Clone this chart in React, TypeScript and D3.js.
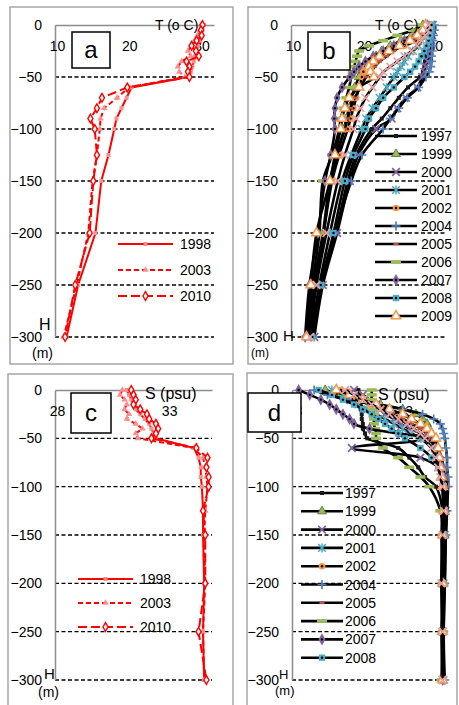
import { useRef, useEffect } from 'react';
import * as d3 from 'd3';

const W = 459;
const H = 705;
const FONT = 'Liberation Sans, Arial, sans-serif';

// depth levels (m) shared by every profile
const depths = [0, -5, -10, -15, -20, -25, -30, -35, -40, -45, -50, -60, -70, -80, -90, -100, -125, -150, -200, -250, -300];
const depthTicks = [0, -50, -100, -150, -200, -250, -300];
const tempTicks = [10, 20, 30];
const salTicks = [28, 33];

// panels a and c: three years
const yearsAC = ['1998', '2003', '2010'];
const tempA1998 = [30.6, 30.4, 30.3, 30.1, 29.8, 29.6, 29.4, 29.2, 29, 28.8, 28.4, 20.6, 19.9, 19.2, 18.5, 18.2, 17.4, 16.4, 15.6, 13.2, 11.6];
const tempA2003 = [30.2, 30, 29.7, 29.3, 28.8, 28.4, 28.8, 27.5, 27, 27.2, 28, 20.2, 18.6, 16.8, 16.3, 16.2, 15.8, 15.2, 14.6, 13, 11.2];
const tempA2010 = [30.4, 30.2, 30.3, 29.6, 28.9, 29.5, 29.9, 28.2, 28.6, 28.4, 28.6, 20, 16.5, 15.8, 14.9, 15.5, 15.8, 15.3, 14.8, 12.8, 11.4];

const salC1998 = [31.2, 31.3, 31.4, 31.5, 31.6, 31.8, 32, 32.2, 32.3, 32.4, 32.5, 34.2, 34.4, 34.5, 34.5, 34.55, 34.6, 34.6, 34.65, 34.6, 34.65];
const salC2003 = [31, 30.9, 31.1, 31.2, 31.1, 31.3, 31.2, 31.6, 31.9, 31.6, 31.7, 34.2, 34.6, 34.7, 34.75, 34.8, 34.7, 34.65, 34.7, 34.6, 34.65];
const salC2010 = [31.4, 31.5, 31.6, 31.5, 31.8, 32.1, 32.2, 32.5, 32.6, 32.5, 32.3, 34.3, 34.8, 34.75, 34.85, 34.85, 34.6, 34.7, 34.7, 34.4, 34.75];

// panels b and d: all years (legend shows only the first ones, as in the source)
const yearsBD = ['1997', '1999', '2000', '2001', '2002', '2004', '2005', '2006', '2007', '2008', '2009', '2010'];

const tempB1997 = [29.6, 29.5, 29.4, 29.3, 29.2, 29.1, 29, 28.9, 28.8, 28.6, 28.2, 26.5, 25.2, 24, 22.8, 21.4, 19.2, 18, 16.3, 14.3, 13.2];
const tempB1999 = [28.6, 28, 27, 25.5, 24, 22.8, 22, 21.2, 20.5, 20, 19.6, 19, 18.6, 18.2, 17.8, 17.5, 16.4, 15.5, 14.5, 13.2, 12.5];
const tempB2000 = [30, 30, 29.9, 29.8, 29.7, 29.6, 29.5, 29.3, 29, 28.8, 28.5, 27.8, 26.2, 25, 24.2, 22, 19.5, 18.3, 16.5, 14.5, 13.3];
const tempB2001 = [29.3, 29.1, 28.8, 28.4, 28, 27.2, 26.5, 26, 25.5, 25, 24.5, 23.5, 22.5, 21.5, 20.6, 20, 18.5, 17.2, 15.5, 14, 12.8];
const tempB2002 = [29.5, 29.2, 28.6, 27.6, 26, 24, 22, 21, 20.5, 20.2, 20, 19.6, 19.2, 18.8, 18.4, 18, 16.8, 15.8, 14.6, 13.5, 12.6];
const tempB2004 = [30.2, 30.2, 30.1, 30, 29.9, 29.9, 29.8, 29.8, 29.7, 29.5, 29, 28, 26.4, 25.2, 24, 23, 20, 18.5, 16.2, 14.2, 13.2];
const tempB2005 = [28.8, 28.4, 27.5, 26.5, 25.5, 24.5, 23.5, 22.5, 21.8, 21.2, 20.6, 19.8, 19, 18.4, 18, 17.6, 16.5, 15.6, 14.6, 13.4, 12.4];
const tempB2006 = [28.5, 27.2, 25, 23, 21, 19.6, 19.3, 19.1, 18.9, 18.7, 18.5, 18.2, 17.8, 17.4, 17, 16.8, 15.8, 14.5, 14, 13, 12.2];
const tempB2007 = [29.2, 28.6, 27.5, 26, 24.5, 23, 21.6, 20.5, 19.6, 18.9, 18.3, 17.2, 16.5, 16.2, 16.1, 16.2, 15.6, 14.8, 13.8, 12.6, 12];
const tempB2008 = [29.8, 29.7, 29.6, 29.4, 29.1, 28.8, 28.4, 28, 27.5, 26.8, 26, 24.5, 23, 22, 21, 20.5, 18.8, 17.6, 16, 14.2, 13];
const tempB2009 = [29, 28.6, 27.8, 26.8, 25.3, 23.8, 22.5, 21.6, 21, 21.2, 21.7, 19.6, 18.2, 17.6, 17.2, 17, 16.2, 15.5, 13.6, 12.8, 12.2];
const tempB2010 = [29.4, 29.2, 28.9, 28.4, 27.8, 27, 26, 25, 24, 23, 22.5, 21.5, 20.5, 19.8, 19.2, 18.8, 17.6, 16.6, 15, 13.6, 12.7];

const salD1997 = [31, 31.05, 31.1, 31.1, 31.1, 31.15, 31.15, 31.2, 31.2, 31.3, 31.4, 32.8, 33.3, 33.7, 34, 34.5, 34.8, 34.8, 34.75, 34.8, 34.8];
const salD1999 = [29.5, 30.2, 31, 32, 33, 33.6, 33.9, 34.1, 34.2, 34.3, 34.4, 34.5, 34.6, 34.7, 34.75, 34.8, 34.9, 34.9, 34.85, 34.8, 34.8];
const salD2000 = [30.8, 31.2, 31.5, 31.8, 32, 32.2, 32.6, 32.9, 33.3, 33.8, 34, 30.7, 33.8, 34.6, 34.8, 34.85, 34.9, 34.85, 34.8, 34.8, 34.8];
const salD2001 = [29.8, 30.3, 30.6, 31, 31.4, 31.8, 32.2, 32.6, 33, 33.4, 33.8, 34.3, 34.6, 34.7, 34.8, 34.9, 34.95, 34.9, 34.85, 34.8, 34.85];
const salD2002 = [30.2, 30.5, 30.9, 31.5, 32.2, 32.9, 33.4, 33.7, 33.9, 34.1, 34.3, 34.5, 34.6, 34.7, 34.75, 34.8, 34.8, 34.75, 34.8, 34.75, 34.8];
const salD2004 = [29, 29.6, 30.5, 31.8, 33, 33.9, 34.4, 34.7, 34.8, 34.85, 34.9, 34.95, 35, 35, 35.05, 35.05, 35, 34.95, 34.9, 34.85, 34.9];
const salD2005 = [30.5, 30.8, 31.2, 31.6, 32, 32.5, 33, 33.4, 33.8, 34.1, 34.4, 34.6, 34.75, 34.85, 34.9, 35, 35, 34.95, 34.9, 34.85, 34.85];
const salD2006 = [31.6, 31.6, 31.6, 31.65, 31.65, 31.7, 31.7, 31.7, 31.75, 31.8, 31.8, 32.1, 32.8, 33.3, 33.8, 34.2, 34.7, 34.8, 34.8, 34.8, 34.75];
const salD2007 = [28.3, 28.8, 29.3, 29.7, 30, 30.3, 30.6, 30.8, 31.5, 32.8, 34.1, 34.5, 34.7, 34.8, 34.85, 34.9, 34.95, 34.9, 34.85, 34.8, 34.8];
const salD2008 = [29.2, 29.8, 30.3, 30.8, 31.2, 31.6, 31.9, 32.2, 32.5, 32.8, 33.1, 33.8, 34.3, 34.6, 34.75, 34.85, 34.9, 34.9, 34.85, 34.8, 34.8];
const salD2009 = [30, 30.6, 31.2, 31.8, 32.4, 33, 33.4, 33.8, 34.1, 34.3, 34.5, 34.6, 34.65, 34.7, 34.75, 34.8, 34.85, 34.8, 34.8, 34.8, 34.8];
const salD2010 = [30.4, 30.8, 31.2, 31.6, 32, 32.4, 32.8, 33.2, 33.5, 33.8, 34, 34.3, 34.5, 34.6, 34.7, 34.8, 34.85, 34.8, 34.75, 34.8, 34.8];

const valuesA = [tempA1998, tempA2003, tempA2010];
const valuesC = [salC1998, salC2003, salC2010];
const valuesB = [tempB1997, tempB1999, tempB2000, tempB2001, tempB2002, tempB2004, tempB2005, tempB2006, tempB2007, tempB2008, tempB2009, tempB2010];
const valuesD = [salD1997, salD1999, salD2000, salD2001, salD2002, salD2004, salD2005, salD2006, salD2007, salD2008, salD2009, salD2010];

// styles
const styleAC = [
  { stroke: '#ff0000', dash: null, marker: 'square', mcolor: '#ff8c8c' },
  { stroke: '#ff0000', dash: '5,3', marker: 'triangleSmall', mcolor: '#ff8c8c' },
  { stroke: '#ff0000', dash: '9,4', marker: 'diamondOpen', mcolor: '#ff0000' },
];
const kindsBD = ['square', 'triangle', 'cross', 'asterisk', 'circleDot', 'plus', 'dash', 'bar', 'diamondDot', 'squareDot', 'triangleOpen', 'cross'];
const colorsBD = ['#1a1a1a', '#9bbb59', '#8064a2', '#4bacc6', '#f79646', '#4f81bd', '#c0504d', '#9bbb59', '#8064a2', '#4bacc6', '#f79646', '#e6a3a3'];

const panels = [
  {
    id: 'a', frame: [10, 7, 223, 357], xRange: [55, 214], yRange: [25, 337], xDomain: [10, 32], xTicks: tempTicks,
    unit: 'T (o C)', unitPos: [155, 30], unitSize: 14, box: [72, 32, 38, 36],
    hPos: [39, 330], hSize: 16, mPos: [32, 358], mSize: 14,
    values: valuesA, years: yearsAC, wide: false,
    legend: { x0: 118, x1: 173, tx: 180, y: 244, step: 26, n: 3 },
  },
  {
    id: 'b', frame: [248, 7, 209, 357], xRange: [291, 447], yRange: [25, 337], xDomain: [10, 32], xTicks: tempTicks,
    unit: 'T (o C)', unitPos: [375, 30], unitSize: 14, box: [308, 32, 42, 38],
    hPos: [283, 341], hSize: 15, mPos: [251, 357], mSize: 12,
    values: valuesB, years: yearsBD, wide: true,
    legend: { x0: 375, x1: 417, tx: 421, y: 136, step: 18, n: 11 },
  },
  {
    id: 'c', frame: [8, 374, 225, 345], xRange: [55, 212], yRange: [390, 680], xDomain: [28, 35], xTicks: salTicks,
    unit: 'S (psu)', unitPos: [145, 399], unitSize: 16, box: [71, 393, 40, 40],
    hPos: [44, 679], hSize: 15, mPos: [38, 697], mSize: 14,
    values: valuesC, years: yearsAC, wide: false,
    legend: { x0: 78, x1: 133, tx: 140, y: 579, step: 24, n: 3 },
  },
  {
    id: 'd', frame: [247, 373, 210, 345], xRange: [292, 447], yRange: [390, 680], xDomain: [28, 35], xTicks: salTicks,
    unit: 'S (psu)', unitPos: [378, 400], unitSize: 16, box: [248, 393, 53, 39],
    hPos: [279, 679], hSize: 13, mPos: [275, 695], mSize: 13,
    values: valuesD, years: yearsBD, wide: true,
    legend: { x0: 301, x1: 343, tx: 345, y: 493, step: 18.3, n: 10 },
  },
];

const drawMarker = (g, kind, color) => {
  const sym = (type, size) => d3.symbol().type(type).size(size)();
  switch (kind) {
    case 'square':
      g.append('rect').attr('x', -2).attr('y', -2).attr('width', 4).attr('height', 4).attr('fill', color);
      break;
    case 'triangleSmall':
      g.append('path').attr('d', sym(d3.symbolTriangle, 18)).attr('fill', color);
      break;
    case 'triangle':
      g.append('path').attr('d', sym(d3.symbolTriangle, 34)).attr('fill', color).attr('stroke', '#4f6228').attr('stroke-width', 0.8);
      break;
    case 'cross':
      g.append('path').attr('d', 'M-3.8,-3.8L3.8,3.8M-3.8,3.8L3.8,-3.8').attr('stroke', color).attr('stroke-width', 1.7).attr('fill', 'none');
      break;
    case 'asterisk':
      g.append('path').attr('d', 'M-3.8,-3.8L3.8,3.8M-3.8,3.8L3.8,-3.8M0,-4.5V4.5').attr('stroke', color).attr('stroke-width', 1.5).attr('fill', 'none');
      break;
    case 'circleDot':
      g.append('circle').attr('r', 3.3).attr('fill', color);
      g.append('circle').attr('r', 1.2).attr('fill', '#000');
      break;
    case 'plus':
      g.append('path').attr('d', 'M-4.5,0H4.5M0,-4.5V4.5').attr('stroke', color).attr('stroke-width', 1.7).attr('fill', 'none');
      break;
    case 'dash':
      g.append('rect').attr('x', -2.5).attr('y', -1.3).attr('width', 5).attr('height', 2.6).attr('fill', color);
      break;
    case 'bar':
      g.append('rect').attr('x', -5).attr('y', -1.8).attr('width', 10).attr('height', 3.6).attr('fill', color);
      break;
    case 'diamondDot':
      g.append('path').attr('d', sym(d3.symbolDiamond, 42)).attr('fill', color);
      g.append('circle').attr('r', 1.2).attr('fill', '#000');
      break;
    case 'squareDot':
      g.append('rect').attr('x', -3.2).attr('y', -3.2).attr('width', 6.4).attr('height', 6.4).attr('fill', color);
      g.append('circle').attr('r', 1.2).attr('fill', '#000');
      break;
    case 'triangleOpen':
      g.append('path').attr('d', sym(d3.symbolTriangle, 38)).attr('fill', '#fff').attr('stroke', color).attr('stroke-width', 1.5);
      break;
    case 'diamondOpen':
      g.append('path').attr('d', sym(d3.symbolDiamond, 22)).attr('fill', '#fff').attr('stroke', color).attr('stroke-width', 1.4);
      break;
    default:
      break;
  }
};

const drawPanel = (svg, p) => {
  const g = svg.append('g');
  const [fx, fy, fw, fh] = p.frame;

  g.append('rect')
    .attr('x', fx).attr('y', fy).attr('width', fw).attr('height', fh)
    .attr('fill', '#fff').attr('stroke', '#a6a6a6').attr('stroke-width', 1.5);

  const x = d3.scaleLinear().domain(p.xDomain).range(p.xRange);
  const y = d3.scaleLinear().domain([0, -300]).range(p.yRange);

  // dashed depth gridlines
  g.selectAll('line.grid')
    .data(depthTicks.filter((d) => d < 0))
    .join('line')
    .attr('x1', p.xRange[0]).attr('x2', p.xRange[1])
    .attr('y1', (d) => y(d)).attr('y2', (d) => y(d))
    .attr('stroke', '#000').attr('stroke-width', 1.3).attr('stroke-dasharray', '4,2.5');

  // depth axis
  const yAxis = g.append('g')
    .attr('transform', `translate(${p.xRange[0]},0)`)
    .call(d3.axisLeft(y).tickValues(depthTicks).tickFormat(d3.format('d')).tickSize(0).tickSizeOuter(0).tickPadding(13));
  yAxis.select('.domain').attr('stroke', '#8c8c8c').attr('stroke-width', 1.5);
  yAxis.selectAll('text').attr('font-size', 14).attr('font-family', FONT).attr('fill', '#000');

  // top value axis with labels inside the plot
  const xAxis = g.append('g')
    .attr('transform', `translate(0,${p.yRange[0]})`)
    .call(d3.axisBottom(x).tickValues(p.xTicks).tickFormat(d3.format('d')).tickSize(0).tickSizeOuter(0).tickPadding(16));
  xAxis.select('.domain').attr('stroke', '#8c8c8c').attr('stroke-width', 1.5);
  xAxis.selectAll('text').attr('font-size', 14).attr('font-family', FONT).attr('fill', '#000').attr('dx', 2);

  // profiles
  const line = d3.line()
    .x((d) => x(d[1]))
    .y((d) => y(d[0]))
    .curve(p.wide ? d3.curveCatmullRom.alpha(0.5) : d3.curveLinear);

  p.values.forEach((vals, i) => {
    const pts = depths.map((dep, k) => [dep, vals[k]]);
    const st = p.wide
      ? { stroke: '#000', dash: null, marker: kindsBD[i], mcolor: colorsBD[i] }
      : styleAC[i];
    g.append('path')
      .attr('d', line(pts))
      .attr('fill', 'none')
      .attr('stroke', st.stroke)
      .attr('stroke-width', p.wide ? 2.6 : 2)
      .attr('stroke-dasharray', st.dash);
    pts.forEach((pt) => {
      const m = g.append('g').attr('transform', `translate(${x(pt[1])},${y(pt[0])})`);
      drawMarker(m, st.marker, st.mcolor);
    });
  });

  // unit label
  g.append('text')
    .attr('x', p.unitPos[0]).attr('y', p.unitPos[1])
    .attr('font-size', p.unitSize).attr('font-family', FONT)
    .text(p.unit);

  // H (m)
  g.append('text').attr('x', p.hPos[0]).attr('y', p.hPos[1])
    .attr('font-size', p.hSize).attr('font-family', FONT).text('H');
  g.append('text').attr('x', p.mPos[0]).attr('y', p.mPos[1])
    .attr('font-size', p.mSize).attr('font-family', FONT).text('(m)');

  // legend
  const lg = p.legend;
  for (let i = 0; i < lg.n; i++) {
    const ly = lg.y + i * lg.step;
    const st = p.wide
      ? { stroke: '#000', dash: null, marker: kindsBD[i], mcolor: colorsBD[i] }
      : styleAC[i];
    g.append('line')
      .attr('x1', lg.x0).attr('x2', lg.x1).attr('y1', ly).attr('y2', ly)
      .attr('stroke', st.stroke).attr('stroke-width', p.wide ? 2.6 : 2)
      .attr('stroke-dasharray', st.dash);
    const m = g.append('g').attr('transform', `translate(${(lg.x0 + lg.x1) / 2},${ly})`);
    drawMarker(m, st.marker, st.mcolor);
    g.append('text')
      .attr('x', lg.tx).attr('y', ly + 5)
      .attr('font-size', 14).attr('font-family', FONT)
      .text(p.years[i]);
  }

  // panel letter box
  const [bx, by, bw, bh] = p.box;
  g.append('rect')
    .attr('x', bx).attr('y', by).attr('width', bw).attr('height', bh)
    .attr('fill', '#fff').attr('stroke', '#000').attr('stroke-width', 1.5);
  g.append('text')
    .attr('x', bx + bw / 2).attr('y', by + bh / 2 + 8)
    .attr('text-anchor', 'middle')
    .attr('font-size', 24).attr('font-family', FONT)
    .text(p.id);
};

const ProfileChart = () => {
  const ref = useRef(null);

  useEffect(() => {
    const svg = d3.select(ref.current);
    svg.selectAll('*').remove();
    panels.forEach((p) => drawPanel(svg, p));
  }, []);

  return (
    <svg
      ref={ref}
      width={W}
      height={H}
      style={{ position: 'absolute', left: 0, top: 0, background: '#fff' }}
    />
  );
};

export default function App() {
  return <ProfileChart />;
}
